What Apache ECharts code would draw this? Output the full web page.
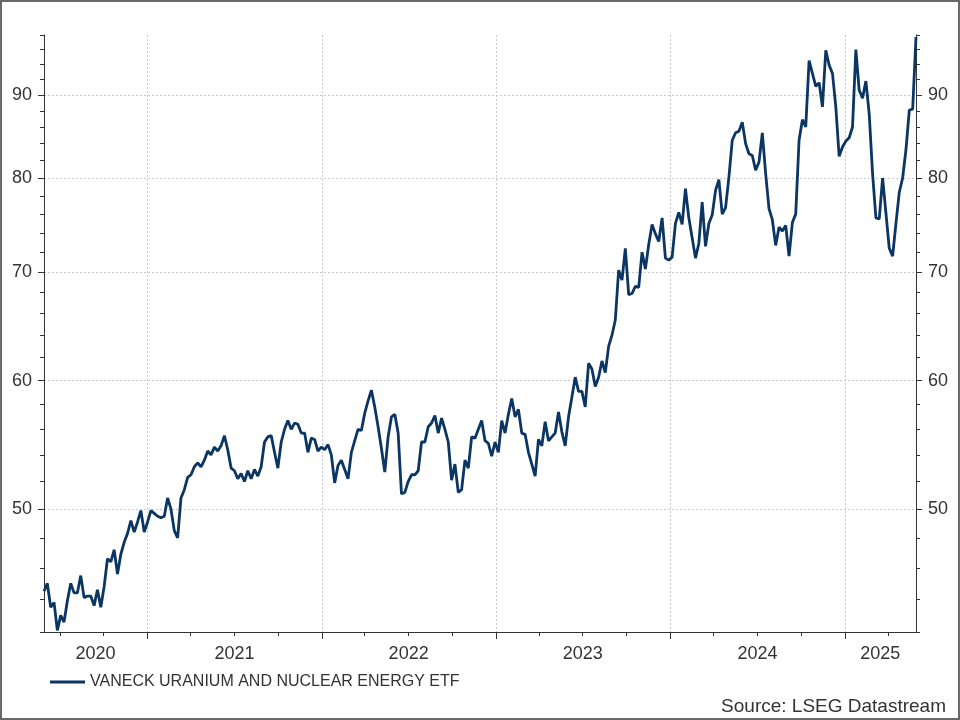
<!DOCTYPE html>
<html>
<head>
<meta charset="utf-8">
<title>VanEck Uranium and Nuclear Energy ETF</title>
<script src="https://cdn.jsdelivr.net/npm/echarts@6.0.0/dist/echarts.min.js"></script>
<style>
  html, body { margin: 0; padding: 0; background: #fff; }
  #chart { width: 960px; height: 720px; }
</style>
</head>
<body>
<div id="chart"></div>
<script>
// weekly closes
var dates = [
  '2020-05-29','2020-06-05','2020-06-12','2020-06-19','2020-06-26','2020-07-03','2020-07-10','2020-07-17','2020-07-24','2020-07-31',
  '2020-08-07','2020-08-14','2020-08-21','2020-08-28','2020-09-04','2020-09-11','2020-09-18','2020-09-25','2020-10-02','2020-10-09',
  '2020-10-16','2020-10-23','2020-10-30','2020-11-06','2020-11-13','2020-11-20','2020-11-27','2020-12-04','2020-12-11','2020-12-18',
  '2020-12-25',
  '2021-01-01','2021-01-08','2021-01-15','2021-01-22','2021-01-29','2021-02-05','2021-02-12','2021-02-19','2021-02-26','2021-03-05',
  '2021-03-12','2021-03-19','2021-03-26','2021-04-02','2021-04-09','2021-04-16','2021-04-23','2021-04-30','2021-05-07','2021-05-14',
  '2021-05-21','2021-05-28','2021-06-04','2021-06-11','2021-06-18','2021-06-25','2021-07-02','2021-07-09','2021-07-16','2021-07-23',
  '2021-07-30','2021-08-06','2021-08-13','2021-08-20','2021-08-27','2021-09-03','2021-09-10','2021-09-17','2021-09-24','2021-10-01',
  '2021-10-08','2021-10-15','2021-10-22','2021-10-29','2021-11-05','2021-11-12','2021-11-19','2021-11-26','2021-12-03','2021-12-10',
  '2021-12-17','2021-12-24','2021-12-31',
  '2022-01-07','2022-01-14','2022-01-21','2022-01-28','2022-02-04','2022-02-11','2022-02-18','2022-02-25','2022-03-04','2022-03-11',
  '2022-03-18','2022-03-25','2022-04-01','2022-04-08','2022-04-15','2022-04-22','2022-04-29','2022-05-06','2022-05-13','2022-05-20',
  '2022-05-27','2022-06-03','2022-06-10','2022-06-17','2022-06-24','2022-07-01','2022-07-08','2022-07-15','2022-07-22','2022-07-29',
  '2022-08-05','2022-08-12','2022-08-19','2022-08-26','2022-09-02','2022-09-09','2022-09-16','2022-09-23','2022-09-30','2022-10-07',
  '2022-10-14','2022-10-21','2022-10-28','2022-11-04','2022-11-11','2022-11-18','2022-11-25','2022-12-02','2022-12-09','2022-12-16',
  '2022-12-23','2022-12-30',
  '2023-01-06','2023-01-13','2023-01-20','2023-01-27','2023-02-03','2023-02-10','2023-02-17','2023-02-24','2023-03-03','2023-03-10',
  '2023-03-17','2023-03-24','2023-03-31','2023-04-07','2023-04-14','2023-04-21','2023-04-28','2023-05-05','2023-05-12','2023-05-19',
  '2023-05-26','2023-06-02','2023-06-09','2023-06-16','2023-06-23','2023-06-30','2023-07-07','2023-07-14','2023-07-21','2023-07-28',
  '2023-08-04','2023-08-11','2023-08-18','2023-08-25','2023-09-01','2023-09-08','2023-09-15','2023-09-22','2023-09-29','2023-10-06',
  '2023-10-13','2023-10-20','2023-10-27','2023-11-03','2023-11-10','2023-11-17','2023-11-24','2023-12-01','2023-12-08','2023-12-15',
  '2023-12-22','2023-12-29',
  '2024-01-05','2024-01-12','2024-01-19','2024-01-26','2024-02-02','2024-02-09','2024-02-16','2024-02-23','2024-03-01','2024-03-08',
  '2024-03-15','2024-03-22','2024-03-29','2024-04-05','2024-04-12','2024-04-19','2024-04-26','2024-05-03','2024-05-10','2024-05-17',
  '2024-05-24','2024-05-31','2024-06-07','2024-06-14','2024-06-21','2024-06-28','2024-07-05','2024-07-12','2024-07-19','2024-07-26',
  '2024-08-02','2024-08-09','2024-08-16','2024-08-23','2024-08-30','2024-09-06','2024-09-13','2024-09-20','2024-09-27','2024-10-04',
  '2024-10-11','2024-10-18','2024-10-25','2024-11-01','2024-11-08','2024-11-15','2024-11-22','2024-11-29','2024-12-06','2024-12-13',
  '2024-12-20','2024-12-27',
  '2025-01-03','2025-01-10','2025-01-17','2025-01-24','2025-01-31','2025-02-07','2025-02-14','2025-02-21','2025-02-28','2025-03-07',
  '2025-03-14','2025-03-21','2025-03-28','2025-04-04','2025-04-11','2025-04-18','2025-04-25','2025-05-02','2025-05-09','2025-05-16',
  '2025-05-23','2025-05-30'
];
var values = [
  44.5, 45.0, 43.5, 43.8, 42.1, 43.0, 42.6, 43.9, 45.0, 44.4,
  44.4, 45.5, 44.1, 44.2, 44.2, 43.6, 44.6, 43.5, 44.8, 46.6,
  46.4, 47.2, 45.6, 46.9, 47.7, 48.3, 49.2, 48.4, 49.1, 49.9,
  48.4,
  49.1, 49.9, 49.7, 49.5, 49.4, 49.5, 50.8, 50.0, 48.5, 48.0,
  50.8, 51.4, 52.3, 52.5, 53.1, 53.4, 53.1, 53.6, 54.3, 54.0,
  54.6, 54.3, 54.7, 55.5, 54.4, 53.0, 52.8, 52.2, 52.6, 52.0,
  52.8, 52.2, 52.9, 52.4, 53.1, 55.0, 55.4, 55.5, 54.2, 53.0,
  55.0, 56.0, 56.7, 56.0, 56.5, 56.4, 55.7, 55.7, 54.2, 55.3,
  55.2, 54.3, 54.6,
  54.4, 54.8, 54.0, 51.9, 53.2, 53.6, 52.9, 52.2, 54.2, 55.1,
  56.0, 55.9, 57.3, 58.3, 59.2, 57.8, 56.2, 54.5, 52.7, 55.4,
  57.0, 57.2, 55.7, 51.1, 51.2, 52.0, 52.5, 52.5, 52.8, 55.0,
  55.0, 56.2, 56.5, 57.1, 55.7, 56.9, 56.0, 55.0, 52.1, 53.3,
  51.2, 51.4, 53.6, 53.0, 55.4, 55.3, 56.0, 56.7, 55.1, 54.9,
  53.9, 55.0,
  54.2, 56.7, 55.7, 57.2, 58.5, 57.0, 57.6, 55.7, 55.6, 54.2,
  53.3, 52.4, 55.2, 54.7, 56.6, 55.1, 55.4, 55.7, 57.4, 55.8,
  54.7, 57.0, 58.6, 60.3, 59.1, 59.1, 57.8, 61.5, 61.0, 59.5,
  60.3, 61.7, 60.7, 63.0, 64.0, 65.4, 70.2, 69.2, 72.4, 67.8,
  67.9, 68.6, 68.5, 72.0, 70.3, 72.8, 74.9, 73.9, 73.1, 75.6,
  71.4, 71.2,
  71.5, 75.0, 76.2, 74.9, 78.8, 75.6, 73.5, 71.4, 72.9, 77.3,
  72.6, 75.0, 75.9, 78.6, 79.8, 76.0, 76.7, 80.1, 84.4, 85.3,
  85.5, 86.6, 84.0, 82.8, 82.6, 80.9, 81.8, 85.3, 80.5, 76.6,
  75.4, 72.7, 74.6, 74.2, 74.8, 71.6, 75.1, 76.0, 84.4, 86.9,
  86.0, 94.5, 92.8, 91.1, 91.6, 88.5, 95.9, 93.9, 92.8, 88.5,
  82.5, 83.6,
  84.3, 84.7, 86.0, 96.0, 90.6, 89.6, 91.8, 87.6, 80.5, 75.6,
  75.5, 80.0, 76.1, 72.4, 71.6, 75.0, 78.4, 80.0, 83.3, 88.1,
  88.2, 97.7
];

var yMajor = [50, 60, 70, 80, 90];
var yMinor = [42, 44, 46, 48, 52, 54, 56, 58, 62, 64, 66, 68, 72, 74, 76, 78, 82, 84, 86, 88, 92, 94, 96, 98];
var yearStarts = ['2021-01-01', '2022-01-01', '2023-01-01', '2024-01-01', '2025-01-01'];
var quarterStarts = [
  '2020-07-01', '2020-10-01',
  '2021-04-01', '2021-07-01', '2021-10-01',
  '2022-04-01', '2022-07-01', '2022-10-01',
  '2023-04-01', '2023-07-01', '2023-10-01',
  '2024-04-01', '2024-07-01', '2024-10-01',
  '2025-04-01'
];
// year labels sit in the middle of the visible part of each year
var yearLabelAt = ['2020-09-14', '2021-07-02', '2022-07-02', '2023-07-02', '2024-07-02', '2025-03-16'];

var FONT = '"Liberation Sans", Arial, sans-serif';
var INK = '#333333';
var LINE = '#0b3563';
var GRID = '#c9c9c9';

// x runs on a plain value axis of UTC timestamps
function ts(d) { return Date.parse(d); }
var xMin = ts('2020-05-29');
var xMax = ts('2025-05-30');

function yAxisMajor(pos, grid) {
  return {
    type: 'log', logBase: 10, min: 42, max: 98, position: pos,
    axisLine: { show: true, lineStyle: { color: INK, width: 1 } },
    axisTick: { show: true, customValues: yMajor, length: 6, lineStyle: { color: INK } },
    axisLabel: { customValues: yMajor, fontSize: 18, color: INK, fontFamily: FONT, margin: 12 },
    splitLine: { show: grid, lineStyle: { color: GRID, type: [2, 2], width: 1 } }
  };
}
function yAxisMinor(pos) {
  return {
    type: 'log', logBase: 10, min: 42, max: 98, position: pos,
    axisLine: { show: false },
    axisTick: { show: true, customValues: yMinor, length: 4, lineStyle: { color: INK } },
    axisLabel: { show: false },
    splitLine: { show: false }
  };
}

var chart = echarts.init(document.getElementById('chart'), null, { renderer: 'canvas' });

chart.setOption({
  animation: false,
  backgroundColor: '#ffffff',
  title: {
    text: 'Source: LSEG Datastream',
    right: 14, top: 697, padding: 0,
    textStyle: { fontSize: 19, fontWeight: 'normal', color: INK, fontFamily: FONT }
  },
  legend: {
    left: 50, top: 674, padding: 0,
    icon: 'rect', itemWidth: 35, itemHeight: 3, itemGap: 10,
    textStyle: { fontSize: 16, color: INK, fontFamily: FONT },
    data: ['VANECK URANIUM AND NUCLEAR ENERGY ETF']
  },
  grid: { left: 44, right: 44, top: 35, bottom: 88, outerBoundsMode: 'none' },
  xAxis: [
    {
      type: 'value', min: xMin, max: xMax, position: 'bottom', scale: true,
      axisLine: { show: true, lineStyle: { color: INK, width: 1 } },
      axisTick: { show: true, customValues: quarterStarts.map(ts), length: 4, lineStyle: { color: INK } },
      axisLabel: {
        customValues: yearLabelAt.map(ts), fontSize: 18, color: INK, fontFamily: FONT, margin: 13,
        formatter: function (v) { return String(new Date(v).getUTCFullYear()); }
      },
      splitLine: { show: false }
    },
    {
      type: 'value', min: xMin, max: xMax, position: 'bottom', scale: true,
      axisLine: { show: false },
      axisTick: { show: true, customValues: yearStarts.map(ts), length: 7, lineStyle: { color: INK } },
      axisLabel: { show: false },
      splitLine: { show: true, lineStyle: { color: GRID, type: [2, 2], width: 1 } }
    }
  ],
  yAxis: [yAxisMajor('left', true), yAxisMinor('left'), yAxisMajor('right', false), yAxisMinor('right')],
  graphic: [{
    type: 'rect', silent: true,
    shape: { x: 1, y: 1, width: 958, height: 718 },
    style: { fill: 'none', stroke: '#6a6a6a', lineWidth: 2 }
  }],
  series: [{
    name: 'VANECK URANIUM AND NUCLEAR ENERGY ETF',
    type: 'line',
    xAxisIndex: 0, yAxisIndex: 0,
    data: dates.map(function (d, i) { return [ts(d), values[i]]; }),
    symbol: 'none',
    lineStyle: { color: LINE, width: 2.8 },
    itemStyle: { color: LINE }
  }]
});
</script>
</body>
</html>
